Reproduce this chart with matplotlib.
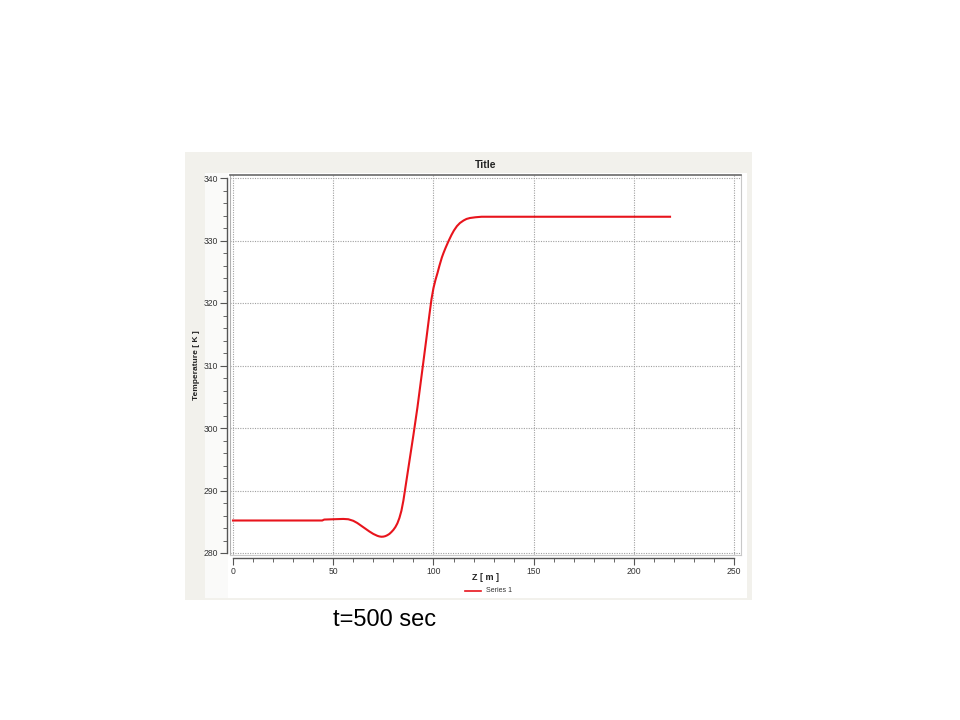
import matplotlib
matplotlib.use("Agg")
import matplotlib.pyplot as plt
from matplotlib.patches import Rectangle
from matplotlib.ticker import MultipleLocator

plt.rcParams['font.family'] = ['Liberation Sans', 'DejaVu Sans']

# Data (Z in m, temperature in K)
z_m = [0, 20, 44.5, 45.5, 50, 55, 57.5, 60, 62, 64, 66, 68, 70, 72, 73, 74, 75, 76, 77,
       78, 79, 80, 81, 82, 83, 84, 85, 86, 87, 88, 89, 90, 92, 94.4, 96.5, 98, 99,
       100, 101, 102, 103, 104.2, 105, 106, 107.5, 109, 110.2, 111.7, 113.2, 115,
       116.5, 118.2, 121, 124, 150, 190, 218]
temp_k = [285.2, 285.2, 285.2, 285.35, 285.4, 285.45, 285.4, 285.15, 284.8, 284.35, 283.9,
          283.45, 283.05, 282.75, 282.65, 282.6, 282.62, 282.7, 282.85,
          283.05, 283.35, 283.7, 284.15, 284.75, 285.6, 286.75, 288.4, 290.5, 292.6,
          294.7, 296.8, 298.9, 303.3, 309.2, 314.4, 318.2, 320.6,
          322.4, 323.7, 324.8, 326.0, 327.3, 328.0, 328.8, 329.9, 330.9, 331.6, 332.3,
          332.8, 333.2, 333.45, 333.6, 333.72, 333.8, 333.8, 333.8, 333.8]

x_ticks = [0, 50, 100, 150, 200, 250]
y_ticks = [280, 290, 300, 310, 320, 330, 340]

W, H = 960, 720
fig = plt.figure(figsize=(9.6, 7.2), dpi=100)
fig.patch.set_facecolor('white')

def rect_px(x0, y0, x1, y1, **kw):
    fig.add_artist(Rectangle((x0 / W, 1 - y1 / H), (x1 - x0) / W, (y1 - y0) / H,
                             transform=fig.transFigure, **kw))

# screenshot panel
rect_px(185, 152, 752, 600, facecolor='#f2f1ec', edgecolor='none', zorder=0)
rect_px(205, 173, 747, 598, facecolor='#fafaf9', edgecolor='none', zorder=0)
rect_px(228, 173, 747, 598, facecolor='#ffffff', edgecolor='none', zorder=0)

ax_l, ax_r, ax_t, ax_b = 230, 741, 175, 555
aw, ah = ax_r - ax_l, ax_b - ax_t
ax = fig.add_axes([ax_l / W, 1 - ax_b / H, aw / W, ah / H])
ax.set_facecolor('white')

ax.plot(z_m, temp_k, color='#e8141c', lw=1.5, label='Series 1', zorder=3,
        solid_joinstyle='round')

ax.set_xlim(-1.5, 253.4)
ax.set_ylim(279.68, 340.48)
ax.set_xticks(x_ticks)
ax.set_yticks(y_ticks)
ax.xaxis.set_minor_locator(MultipleLocator(10))
ax.yaxis.set_minor_locator(MultipleLocator(2))

ax.grid(True, which='major', color='#a0a0a0', lw=0.8, linestyle=(0, (1, 1.2)))

for s in ['left', 'bottom']:
    ax.spines[s].set_position(('outward', 2))
    ax.spines[s].set_color('#555555')
    ax.spines[s].set_linewidth(1.0)
ax.spines['left'].set_bounds(280, 340)
ax.spines['bottom'].set_bounds(0, 250)
ax.spines['top'].set_color('#6a6a6a')
ax.spines['top'].set_linewidth(1.2)
ax.spines['right'].set_color('#c8c8c8')
ax.spines['right'].set_linewidth(0.8)
# frame lines on left and bottom of the plot area
ax.plot([0, 0], [0, 1], transform=ax.transAxes, color='#b0b0b0', lw=0.8, clip_on=False)
ax.plot([0, 1], [0, 0], transform=ax.transAxes, color='#c8c8c8', lw=0.8, clip_on=False)

ax.tick_params(axis='both', which='major', length=5, width=0.8, color='#555555',
               labelsize=6.2, labelcolor='#333333', pad=2)
ax.tick_params(axis='y', which='major', pad=1.5)
ax.tick_params(axis='both', which='minor', length=3, width=0.7, color='#666666')

ax.set_title('Title', fontsize=7.5, fontweight='bold', color='#222222', pad=5)
ax.set_xlabel('Z [ m ]', fontsize=6.5, fontweight='bold', color='#222222')
ax.set_ylabel('Temperature [ K ]', fontsize=6, fontweight='bold', color='#222222')
ax.xaxis.set_label_coords((485 - ax_l) / aw, (ax_b - 578) / ah)
ax.yaxis.set_label_coords((197 - ax_l) / aw, (ax_b - 365) / ah)
ax.xaxis.label.set_va('center')
ax.yaxis.label.set_va('center')

# legend below the axis
fig.add_artist(plt.Line2D([465 / W, 481 / W], [1 - 591 / H, 1 - 591 / H],
                          transform=fig.transFigure, color='#e8141c', lw=1.2))
fig.text(486 / W, 1 - 591 / H, 'Series 1', fontsize=5, color='#333333', va='center', ha='left')

fig.text(385 / W, 1 - 620 / H, 't=500 sec', fontsize=17, color='black', va='center', ha='center')

fig.savefig('out.png', dpi=100, facecolor='white')
